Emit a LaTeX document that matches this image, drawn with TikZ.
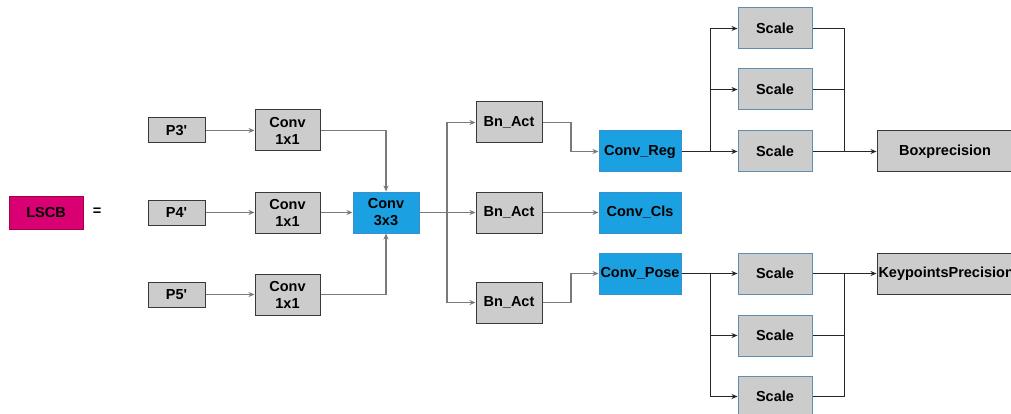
\documentclass[tikz,border=0pt]{standalone}
\usepackage{fontspec}
\setmainfont{Liberation Sans}
\usetikzlibrary{arrows.meta}
\definecolor{boxgray}{HTML}{CCCCCC}
\definecolor{boxline}{HTML}{36393D}
\definecolor{blueFill}{HTML}{1BA1E2}
\definecolor{blueLine}{HTML}{3D8FCB}
\definecolor{scaleLine}{HTML}{5E8FB3}
\definecolor{pinkFill}{HTML}{D80073}
\definecolor{pinkLine}{HTML}{A50040}
\definecolor{wireGray}{HTML}{7A7A7A}
\definecolor{wireDark}{HTML}{262626}
\tikzset{
  blk/.style={rectangle, draw=boxline, fill=boxgray, line width=1pt,
    font=\fontsize{14.5}{16}\selectfont\bfseries, align=center, inner sep=0pt},
  graybox/.style={blk, minimum width=#1, minimum height=41},
  smallbox/.style={blk, minimum width=57, minimum height=25},
  bluebox/.style={blk, fill=blueFill, draw=blueLine, minimum width=82, minimum height=41},
  scalebox/.style={blk, draw=scaleLine, minimum width=74, minimum height=41},
  wire/.style={draw=wireGray, line width=1.2pt},
  wirek/.style={draw=wireDark, line width=0.9pt},
  tip/.style={-{Stealth[length=6pt,width=5pt]}},
}
\newcommand{\pq}{\textquotesingle}
\begin{document}
\begin{tikzpicture}[x=1pt,y=-1pt]
\useasboundingbox (0,0) rectangle (1011,414);
\clip (0,0) rectangle (1011,414);
\fill[white] (0,0) rectangle (1011,414);

% label of the block
\node[blk, fill=pinkFill, draw=pinkLine, minimum width=74, minimum height=33] (lscb) at (46,212.5) {LSCB};
\node[font=\fontsize{14.5}{16}\selectfont\bfseries] (eq) at (97,212) {=};

% inputs
\node[smallbox] (p3) at (176.5,130.5) {P3\pq};
\node[smallbox] (p4) at (176.5,212.5) {P4\pq};
\node[smallbox] (p5) at (176.5,294.5) {P5\pq};

% 1x1 convolutions
\node[graybox=65] (ca) at (287.5,130.5) {Conv\\[1pt]1x1};
\node[graybox=65] (cb) at (287.5,212.5) {Conv\\[1pt]1x1};
\node[graybox=65] (cc) at (287.5,294.5) {Conv\\[1pt]1x1};

% 3x3 convolution
\node[bluebox, minimum width=66] (c3) at (386,212.5) {Conv\\[1pt]3x3};

% batch norm + activation
\node[graybox=66] (bn1) at (509,122.5) {Bn\_Act};
\node[graybox=66] (bn2) at (509,212.5) {Bn\_Act};
\node[graybox=66] (bn3) at (509,302.5) {Bn\_Act};

% heads
\node[bluebox] (reg) at (640,151.5) {Conv\_Reg};
\node[bluebox] (cls) at (640,212.5) {Conv\_Cls};
\node[bluebox] (pose) at (640,273.5) {Conv\_Pose};

% scales
\node[scalebox] (s1) at (775,28.5) {Scale};
\node[scalebox] (s2) at (775,89.5) {Scale};
\node[scalebox] (s3) at (775,151.5) {Scale};
\node[scalebox] (k1) at (775,273.5) {Scale};
\node[scalebox] (k2) at (775,335.5) {Scale};
\node[scalebox] (k3) at (775,396.5) {Scale};

% outputs (the keypoint label runs past its box on the right)
\node[graybox=136] (bp) at (945,151.5) {Boxprecision};
\node[graybox=136] (kp) at (945,273.5) {\makebox[136pt][l]{\hspace*{1.5pt}KeypointsPrecision}};

% split / merge columns
\coordinate (sp1) at (447,0);
\coordinate (mg1) at (571,0);
\coordinate (sp2) at (710,0);
\coordinate (mg2) at (844,0);

% input side
\draw[wire, tip] (p3) -- (ca);
\draw[wire, tip] (p4) -- (cb);
\draw[wire, tip] (p5) -- (cc);
\draw[wire, tip] (ca.east) -| (c3.north);
\draw[wire, tip] (cb) -- (c3);
\draw[wire, tip] (cc.east) -| (c3.south);

% fan out to the three Bn_Act blocks
\draw[wire, tip] (c3) -- (bn2);
\draw[wire, tip] (c3.east -| sp1) |- (bn1.west);
\draw[wire, tip] (c3.east -| sp1) |- (bn3.west);

% into the heads
\draw[wire, tip] (bn1.east) -- (bn1.east -| mg1) |- (reg.west);
\draw[wire, tip] (bn2) -- (cls);
\draw[wire, tip] (bn3.east) -- (bn3.east -| mg1) |- (pose.west);

% regression branch
\draw[wirek, tip] (reg) -- (s3);
\draw[wirek, tip] (reg.east -| sp2) |- (s1.west);
\draw[wirek, tip] (reg.east -| sp2) |- (s2.west);
\draw[wirek] (s1.east) -- (s1.east -| mg2) -- (s3.east -| mg2);
\draw[wirek] (s2.east) -- (s2.east -| mg2);
\draw[wirek, tip] (s3) -- (bp);

% pose branch
\draw[wirek, tip] (pose) -- (k1);
\draw[wirek, tip] (pose.east -| sp2) |- (k2.west);
\draw[wirek, tip] (pose.east -| sp2) |- (k3.west);
\draw[wirek] (k3.east) -- (k3.east -| mg2) -- (k1.east -| mg2);
\draw[wirek] (k2.east) -- (k2.east -| mg2);
\draw[wirek, tip] (k1) -- (kp);
\end{tikzpicture}
\end{document}
